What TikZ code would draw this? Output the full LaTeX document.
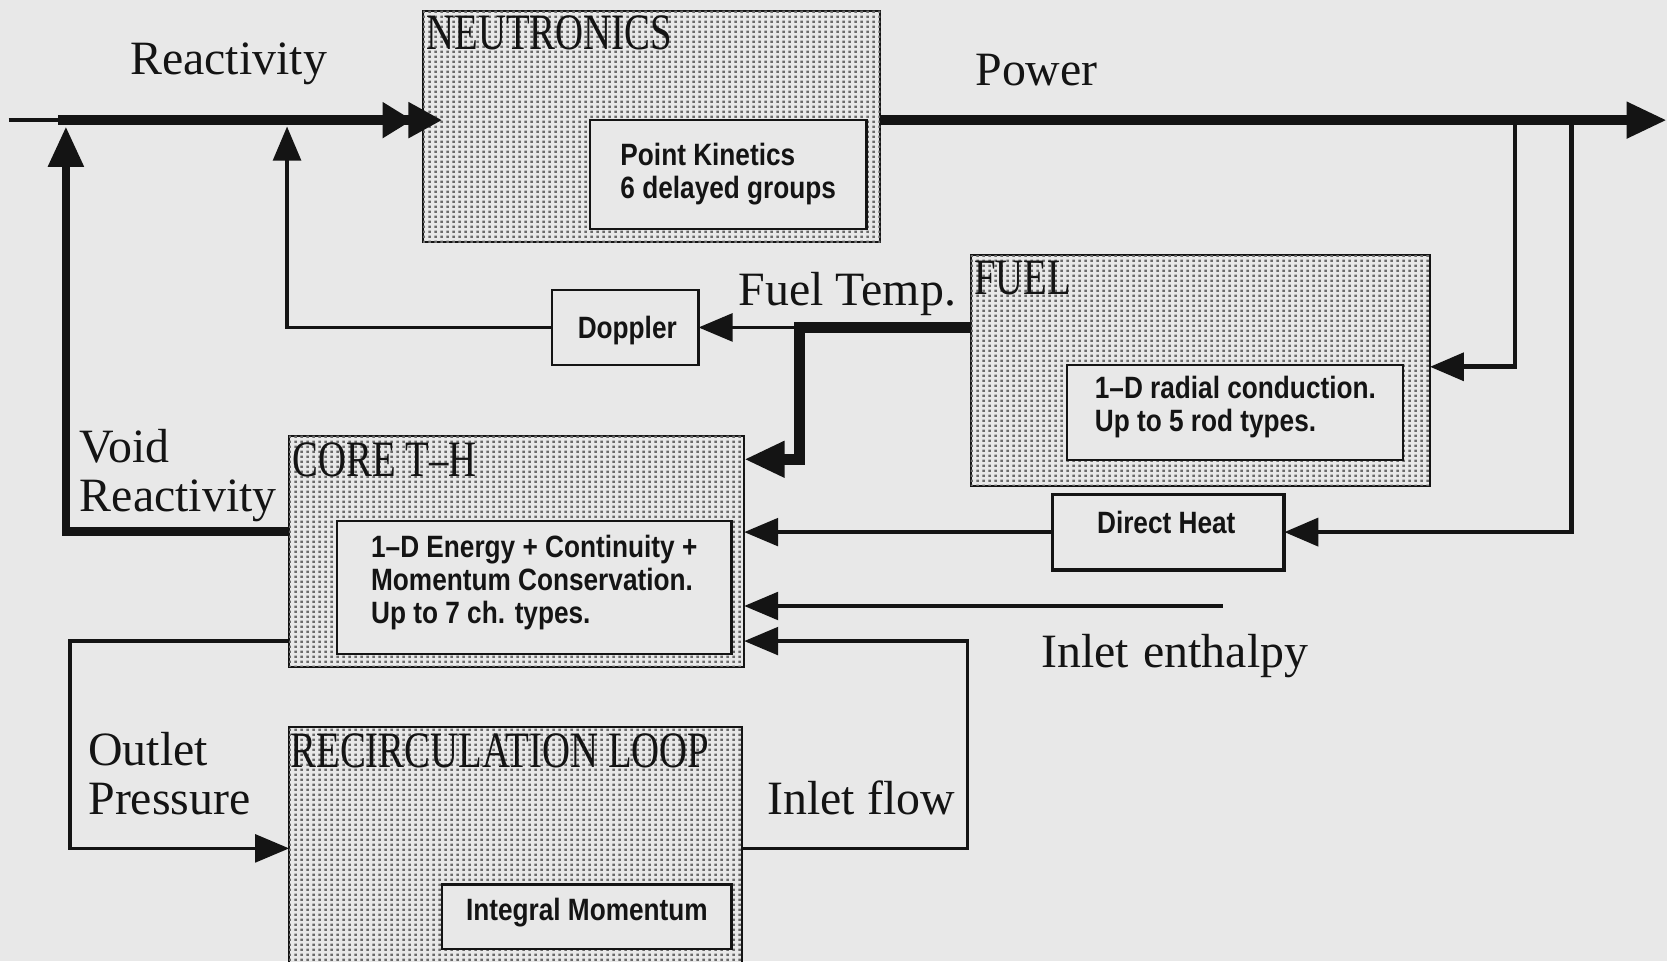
\documentclass[tikz,border=0pt]{standalone}
\usepackage{fontspec}
\setmainfont{Liberation Serif}
\newfontfamily\titlefont[FakeStretch=0.76]{Liberation Serif}
\newfontfamily\boxfont[FakeStretch=0.85]{Liberation Sans}
\usetikzlibrary{arrows.meta,calc,patterns.meta}
\definecolor{bg}{HTML}{E8E8E8}
\definecolor{ink}{HTML}{141414}
\definecolor{dotc}{HTML}{6A6A6A}
\tikzdeclarepattern{
  name=finedots,
  type=uncolored,
  bounding box={(0pt,0pt) and (6pt,5pt)},
  tile size={(6pt,5pt)},
  code={\pgfpathrectangle{\pgfpoint{1.5pt}{1.2pt}}{\pgfpoint{2.6pt}{2.4pt}}\pgfusepath{fill}}
}
\tikzset{
  bigbox/.style={draw=ink, line width=1.8pt, fill=bg, postaction={pattern=finedots, pattern color=dotc}, inner sep=0pt, outer sep=0pt},
  inbox/.style={draw=ink, line width=2pt, fill=bg, inner sep=0pt, outer sep=0pt},
  plainbox/.style={draw=ink, line width=2pt, fill=bg, inner sep=0pt, outer sep=0pt},
  heavybox/.style={draw=ink, line width=3.5pt, fill=bg, inner sep=0pt, outer sep=0pt},
  titletext/.style={font=\fontsize{48}{50}\selectfont\titlefont, text=ink, inner sep=0pt, anchor=base west},
  labeltext/.style={font=\fontsize{45}{47}\selectfont, text=ink, inner sep=0pt},
  intext/.style={font=\fontsize{29}{31}\selectfont\boxfont\bfseries, text=ink, inner sep=0pt, align=left},
  thickline/.style={draw=ink, line width=10pt, line join=miter},
  vline/.style={draw=ink, line width=8pt, line join=miter},
  medline/.style={draw=ink, line width=4.5pt, line join=miter},
  thinline/.style={draw=ink, line width=3.5pt, line join=miter},
  bigtip/.tip={Triangle[length=38pt,width=32pt]},
  smalltip/.tip={Triangle[length=32pt,width=26pt]},
}
\begin{document}
\begin{tikzpicture}[x=1pt,y=-1pt]
\useasboundingbox (0,0) rectangle (1568,904);
\fill[bg] (0,0) rectangle (1568,904);

% boxes
\node[bigbox, minimum width=430pt, minimum height=218pt] (neut) at (613,119) {};
\node[inbox, minimum width=260pt, minimum height=102pt] (neutin) at (685,164) {};
\node[bigbox, minimum width=432pt, minimum height=217pt] (fuel) at (1129,348.5) {};
\node[inbox, minimum width=316pt, minimum height=90pt] (fuelin) at (1162,388) {};
\node[plainbox, minimum width=138pt, minimum height=70pt] (dop) at (588,308) {};
\node[bigbox, minimum width=428pt, minimum height=217pt] (core) at (486,518.5) {};
\node[inbox, minimum width=371pt, minimum height=125pt] (corein) at (502.5,552.5) {};
\node[heavybox, minimum width=218pt, minimum height=71pt] (dh) at (1099,500.5) {};
\node[bigbox, minimum width=426pt, minimum height=226pt] (recirc) at (485,797) {};
\node[inbox, minimum width=272pt, minimum height=61pt] (recin) at (552,862.5) {};

% titles
\node[titletext] (neutT) at (401,47) {NEUTRONICS};
\node[titletext] (fuelT) at (916,277) {FUEL};
\node[titletext] (coreT) at (275,448) {CORE T–H};
\node[titletext] (recT) at (273,722) {RECIRCULATION LOOP};

% inner texts
\node[intext] (neutX) at ($(neutin.center)+(0,0)$) {Point Kinetics\\6 delayed groups};
\node[intext] (fuelX) at ($(fuelin.center)+(0,-5)$) {1–D radial conduction.\\Up to 5 rod types.};
\node[intext] (coreX) at ($(corein.center)+(0,-5)$) {1–D Energy + Continuity +\\Momentum Conservation.\\Up to 7 ch. types.};
\node[intext] (recX) at ($(recin.center)+(0,-4)$) {Integral Momentum};
\node[intext] (dopX) at ($(dop.center)+(2,3)$) {Doppler};
\node[intext] (dhX) at ($(dh.center)+(-2,-9)$) {Direct Heat};

% labels
\node[labeltext, anchor=base] (lreact) at (215,70) {Reactivity};
\node[labeltext, anchor=base] (lpower) at (975,80) {Power};
\node[labeltext, anchor=base] (lftemp) at (797,287) {Fuel Temp.};
\node[labeltext, anchor=base west] (lvoid1) at (75,435) {Void};
\node[labeltext, anchor=base west] (lvoid2) at (75,481) {Reactivity};
\node[labeltext, anchor=base west] (lout1) at (83,720) {Outlet};
\node[labeltext, anchor=base west] (lout2) at (83,766) {Pressure};
\node[labeltext, anchor=base] (linflow) at (810,766) {Inlet flow};
\node[labeltext, anchor=base] (linenth) at (1105,628) {Inlet\hspace{0.3em}enthalpy};

% coordinates
\coordinate (rin) at (8,113);
\coordinate (rjoin) at (55,113);
\coordinate (vcorner) at (62,500);
\coordinate (vtop) at (62,119);
\coordinate (dcorner) at (270,308);
\coordinate (dtop) at (270,119);
\coordinate (ft1) at (752,308);
\coordinate (ft2) at (752,432);
\coordinate (pend) at (1568,113);
\coordinate (b1) at (1425,113);
\coordinate (b1c) at (1425,345);
\coordinate (b2) at (1478,113);
\coordinate (ie) at (1150,570);
\coordinate (if1) at (910,798);
\coordinate (if2) at (910,603);
\coordinate (op1) at (66,603);
\coordinate (op2) at (66,798);

% feedback into reactivity
\draw[vline, -{bigtip}] (core.west |- vcorner) -- (vcorner) -- (vtop);
\draw[thinline, -{smalltip}] (dop.west) -- (dcorner) -- (dtop);

% reactivity input
\draw[thinline] (rin) -- (rjoin);
\draw[thickline, -{Triangle[length=28pt,width=32pt,sep=-4pt]Triangle[length=32pt,width=32pt]}] (rjoin) -- ($(neut.west |- rin)+(18,0)$);

% power
\draw[medline, -{smalltip}] (b1) -- (b1c) -- (fuel.east |- b1c);
\draw[medline, -{smalltip}] (b2) -- (b2 |- dh.east) -- (dh.east);
\draw[thickline, -{bigtip}] (neut.east |- rin) -- (pend);

% fuel temperature
\draw[thinline, -{smalltip}] (ft1) -- (dop.east);
\draw[thickline, -{bigtip}] (fuel.west |- ft1) -- (ft1) -- (ft2) -- (core.east |- ft2);

% into core
\draw[thinline, -{smalltip}] (dh.west) -- (core.east |- dh.west);
\draw[thinline, -{smalltip}] (ie) -- (core.east |- ie);
\draw[thinline, -{smalltip}] (recirc.east |- if1) -- (if1) -- (if2) -- (core.east |- if2);

% outlet pressure
\draw[thinline, -{smalltip}] (core.west |- op1) -- (op1) -- (op2) -- (recirc.west |- op2);
\end{tikzpicture}
\end{document}
